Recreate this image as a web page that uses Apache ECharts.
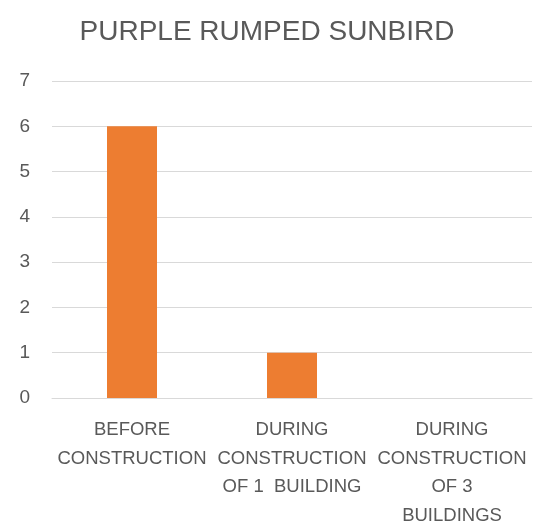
<!DOCTYPE html>
<html>
<head>
<meta charset="utf-8">
<script src="https://cdn.jsdelivr.net/npm/echarts@6/dist/echarts.min.js"></script>
<style>
html,body{margin:0;padding:0;background:#fff;}
#main{width:534px;height:530px;}
</style>
</head>
<body>
<div id="main"></div>
<script>
var categories = ['BEFORE\nCONSTRUCTION', 'DURING\nCONSTRUCTION\nOF 1  BUILDING', 'DURING\nCONSTRUCTION\nOF 3\nBUILDINGS'];
var values = [6, 1, 0];
var yTicks = [0, 1, 2, 3, 4, 5, 6, 7];

var chart = echarts.init(document.getElementById('main'));
var option = {
	animation: false,
	title: {
		text: 'PURPLE RUMPED SUNBIRD',
		left: 'center',
		top: 13,
		textStyle: {
			color: '#595959',
			fontSize: 28,
			fontWeight: 'normal',
			fontFamily: 'Liberation Sans'
		}
	},
	grid: {
		left: 52,
		right: 2,
		top: 81,
		bottom: 129
	},
	xAxis: {
		type: 'category',
		data: categories,
		axisLine: { lineStyle: { color: '#d9d9d9', width: 1 } },
		axisTick: { show: false },
		axisLabel: {
			color: '#595959',
			fontSize: 18.5,
			fontFamily: 'Liberation Sans',
			lineHeight: 28.5,
			margin: 18,
			interval: 0
		}
	},
	yAxis: {
		type: 'value',
		min: yTicks[0],
		max: yTicks[yTicks.length - 1],
		interval: 1,
		axisLine: { show: false },
		axisTick: { show: false },
		splitLine: { lineStyle: { color: '#d9d9d9', width: 1 } },
		axisLabel: {
			color: '#595959',
			fontSize: 19,
			fontFamily: 'Liberation Sans',
			margin: 22
		}
	},
	series: [{
		type: 'bar',
		data: values,
		barWidth: 50,
		itemStyle: { color: '#ED7D31' }
	}]
};
chart.setOption(option);
</script>
</body>
</html>
